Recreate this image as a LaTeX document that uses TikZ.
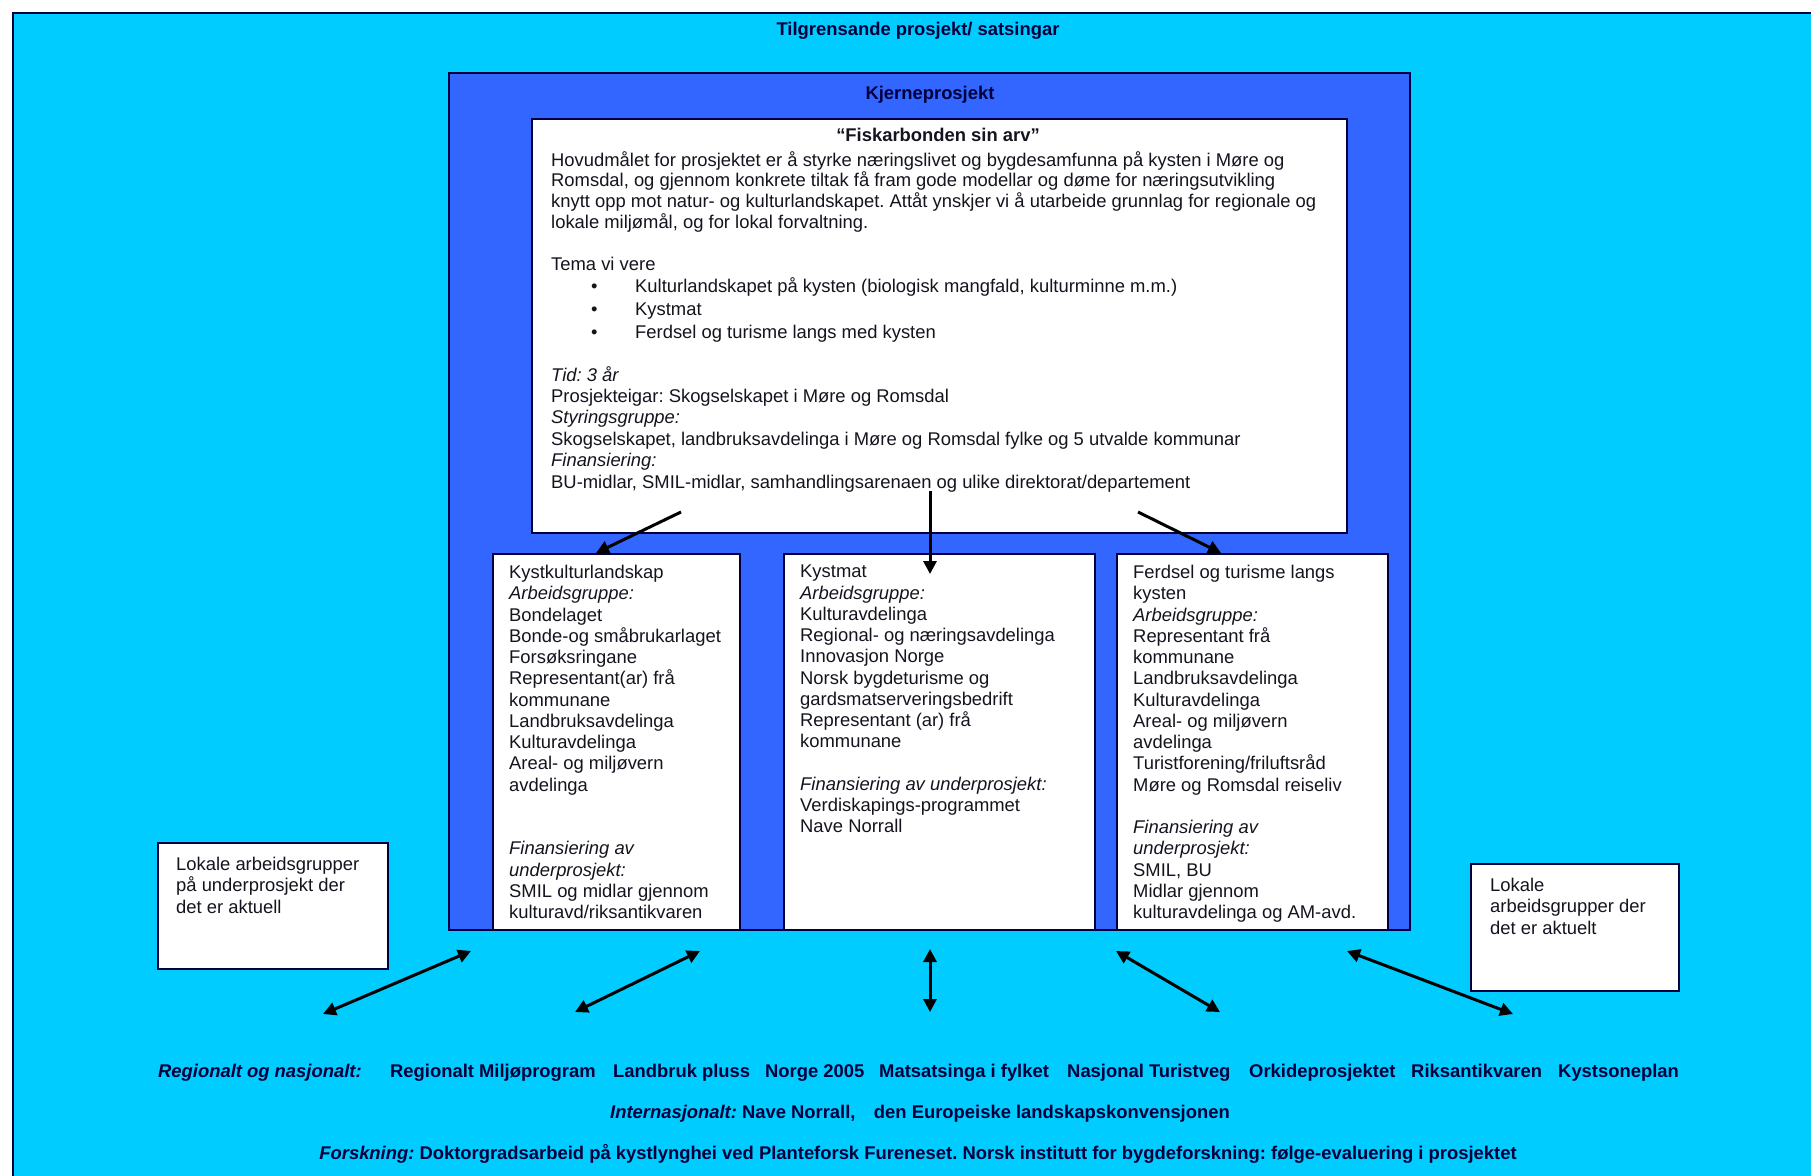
\documentclass[tikz,border=0pt]{standalone}
\usepackage{fontspec}
\setmainfont{Liberation Sans}
\usetikzlibrary{arrows.meta}
\definecolor{cyanbg}{RGB}{0,204,255}
\definecolor{bluebox}{RGB}{51,102,255}
\definecolor{navy}{RGB}{0,0,60}
\definecolor{inktxt}{RGB}{20,20,30}
\frenchspacing
\begin{document}
\begin{tikzpicture}[x=1pt,y=-1pt,
  box/.style={draw=navy, line width=2pt, anchor=north west, inner sep=0pt, fill=white},
  txt/.style={anchor=north west, inner sep=0pt, align=left, text=inktxt,
    font=\fontsize{18.4}{21.25}\selectfont},
  toptxt/.style={txt, font=\fontsize{18.4}{20.8}\selectfont},
  headtxt/.style={inner sep=0pt, text=navy, font=\bfseries\fontsize{18.4}{21}\selectfont},
  bottxt/.style={anchor=base west, inner sep=0pt, text=navy, font=\bfseries\fontsize{18.4}{21}\selectfont},
  arr/.style={line width=3pt, draw=black, -{Triangle[length=13pt,width=13pt]}},
  darr/.style={line width=3pt, draw=black, {Triangle[length=13pt,width=13pt]}-{Triangle[length=13pt,width=13pt]}},
  ]
\useasboundingbox (0,0) rectangle (1811,1175);
\fill[white] (0,0) rectangle (1811,1175);
% background
\node[box, fill=cyanbg, minimum width=1810pt, minimum height=1175pt] (bg) at (12,12) {};
\node[headtxt] (title) at (918,31) {Tilgrensande prosjekt/ satsingar};
% core project
\node[box, fill=bluebox, minimum width=961pt, minimum height=857pt] (core) at (448,72) {};
\node[headtxt] (coretitle) at (930,95) {Kjerneprosjekt};
\node[box, minimum width=815pt, minimum height=414pt] (main) at (531,118) {};
\node[headtxt, text=inktxt] (maintitle) at (938,135) {“Fiskarbonden sin arv”};
\node[toptxt] (goal) at (551,151) {Hovudmålet for prosjektet er å styrke næringslivet og bygdesamfunna på kysten i Møre og\\
Romsdal, og gjennom konkrete tiltak få fram gode modellar og døme for næringsutvikling\\
knytt opp mot natur- og kulturlandskapet. Attåt ynskjer vi å utarbeide grunnlag for regionale og\\
lokale miljømål, og for lokal forvaltning.\\
~\\
Tema vi vere};
\node[toptxt, font=\fontsize{18.4}{23}\selectfont] (themes) at (591,277) {\makebox[44pt][l]{•}Kulturlandskapet på kysten (biologisk mangfald, kulturminne m.m.)\\
\makebox[44pt][l]{•}Kystmat\\
\makebox[44pt][l]{•}Ferdsel og turisme langs med kysten};
\node[toptxt, font=\fontsize{18.4}{21.4}\selectfont] (facts) at (551,366) {\textit{Tid: 3 år}\\
Prosjekteigar: Skogselskapet i Møre og Romsdal\\
\textit{Styringsgruppe:}\\
Skogselskapet, landbruksavdelinga i Møre og Romsdal fylke og 5 utvalde kommunar\\
\textit{Finansiering:}\\
BU-midlar, SMIL-midlar, samhandlingsarenaen og ulike direktorat/departement};
% sub projects
\node[box, minimum width=247pt, minimum height=376pt] (subA) at (492,553) {};
\node[box, minimum width=311pt, minimum height=376pt] (subB) at (783,553) {};
\node[box, minimum width=271pt, minimum height=376pt] (subC) at (1116,553) {};
\node[txt] (textA) at (509,565) {Kystkulturlandskap\\
\textit{Arbeidsgruppe:}\\
Bondelaget\\
Bonde-og småbrukarlaget\\
Forsøksringane\\
Representant(ar) frå\\
kommunane\\
Landbruksavdelinga\\
Kulturavdelinga\\
Areal- og miljøvern\\
avdelinga\\
~\\
~\\
\textit{Finansiering av}\\
\textit{underprosjekt:}\\
SMIL og midlar gjennom\\
kulturavd/riksantikvaren};
\node[txt] (textB) at (800,565) {Kystmat\\
\textit{Arbeidsgruppe:}\\
Kulturavdelinga\\
Regional- og næringsavdelinga\\
Innovasjon Norge\\
Norsk bygdeturisme og\\
gardsmatserveringsbedrift\\
Representant (ar) frå\\
kommunane\\
~\\
\textit{Finansiering av underprosjekt:}\\
Verdiskapings-programmet\\
Nave Norrall};
\node[txt] (textC) at (1133,565) {Ferdsel og turisme langs\\
kysten\\
\textit{Arbeidsgruppe:}\\
Representant frå\\
kommunane\\
Landbruksavdelinga\\
Kulturavdelinga\\
Areal- og miljøvern\\
avdelinga\\
Turistforening/friluftsråd\\
Møre og Romsdal reiseliv\\
~\\
\textit{Finansiering av}\\
\textit{underprosjekt:}\\
SMIL, BU\\
Midlar gjennom\\
kulturavdelinga og AM-avd.};
% local groups
\node[box, minimum width=230pt, minimum height=126pt] (localA) at (157,842) {};
\node[txt] (localAtxt) at (176,857) {Lokale arbeidsgrupper\\ på underprosjekt der\\ det er aktuell};
\node[box, minimum width=208pt, minimum height=127pt] (localB) at (1470,863) {};
\node[txt] (localBtxt) at (1490,878) {Lokale\\ arbeidsgrupper der\\ det er aktuelt};
% arrows from main to sub projects
\coordinate (mA) at (681,512); \coordinate (tA) at (596,553);
\coordinate (mB) at (930,491); \coordinate (tB) at (930,574);
\coordinate (mC) at (1138,512); \coordinate (tC) at (1221,553);
\draw[arr] (mA) -- (tA);
\draw[arr] (mB) -- (tB);
\draw[arr] (mC) -- (tC);
% double arrows at bottom
\coordinate (u1) at (471,951); \coordinate (l1) at (323,1014);
\coordinate (u2) at (700,951); \coordinate (l2) at (575,1012);
\coordinate (u3) at (930,949); \coordinate (l3) at (930,1012);
\coordinate (u4) at (1116,951); \coordinate (l4) at (1220,1012);
\coordinate (u5) at (1347,951); \coordinate (l5) at (1513,1014);
\foreach \i in {1,...,5} {\draw[darr] (u\i) -- (l\i);}
% bottom lines
\node[bottxt] (r0) at (158,1077) {\itshape Regionalt og nasjonalt:};
\node[bottxt] (r1) at (390,1077) {Regionalt Miljøprogram};
\node[bottxt] (r2) at (613,1077) {Landbruk pluss};
\node[bottxt] (r3) at (765,1077) {Norge 2005};
\node[bottxt] (r4) at (879,1077) {Matsatsinga i fylket};
\node[bottxt] (r5) at (1067,1077) {Nasjonal Turistveg};
\node[bottxt] (r6) at (1249,1077) {Orkideprosjektet};
\node[bottxt] (r7) at (1411,1077) {Riksantikvaren};
\node[bottxt] (r8) at (1558,1077) {Kystsoneplan};
\node[bottxt, anchor=base] (intl) at (920,1118) {\textit{Internasjonalt:} Nave Norrall,\quad den Europeiske landskapskonvensjonen};
\node[bottxt, anchor=base] (research) at (918,1159) {\textit{Forskning:} Doktorgradsarbeid på kystlynghei ved Planteforsk Fureneset. Norsk institutt for bygdeforskning: følge-evaluering i prosjektet};
\end{tikzpicture}
\end{document}
